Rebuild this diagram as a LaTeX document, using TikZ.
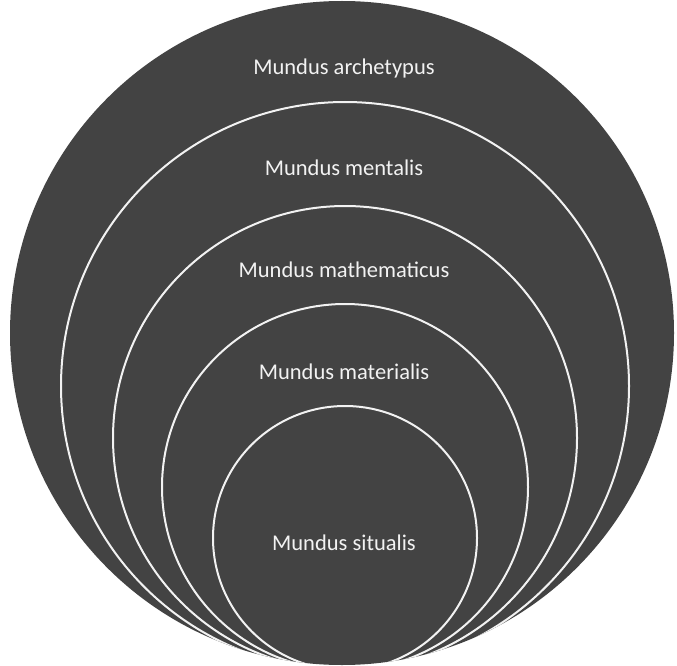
\documentclass[tikz,border=0pt]{standalone}
\usepackage{fontspec}
\setmainfont{Carlito}
\usetikzlibrary{positioning}
\definecolor{slate}{RGB}{67,67,67}
\definecolor{chalk}{RGB}{242,242,242}

\begin{document}
\begin{tikzpicture}[x=1pt,y=-1pt,
  every node/.style={inner sep=0pt,outer sep=0pt,},%
  disc/.style={circle,fill=slate,},%
  ring/.style={circle,draw=chalk,line width=2pt,},%
  lbl/.style={text=chalk,font=\fontsize{22.5}{27}\selectfont,},%
  ]
  \useasboundingbox (0,0) rectangle (677,666);

  \node (archetypus) [disc,minimum size=664pt] at (342,333) {};

  \begin{scope}
    \clip (archetypus.center) circle (332);
    \node (mentalis) [ring,minimum size=568pt] at (345,386) {};
    \node (mathematicus) [ring,minimum size=464pt] at (345,438) {};
    \node (materialis) [ring,minimum size=366pt] at (345,487) {};
    \node (situalis) [ring,minimum size=264pt] at (345,538) {};
  \end{scope}

  \node (t-arch) [lbl] at (344,69) {Mundus archetypus};
  \node (t-ment) [lbl] at (344,168) {Mundus mentalis};
  \node (t-math) [lbl] at (344,270) {Mundus mathematicus};
  \node (t-mat) [lbl] at (344,372) {Mundus materialis};
  \node (t-sit) [lbl] at (344,543) {Mundus situalis};
\end{tikzpicture}
\end{document}
